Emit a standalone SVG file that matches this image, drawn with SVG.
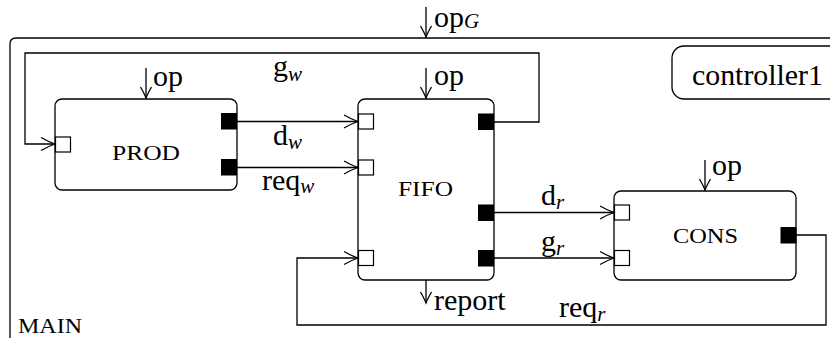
<svg xmlns="http://www.w3.org/2000/svg" width="830" height="338" viewBox="0 0 830 338">
<defs>
<style>
.box{fill:#fff;stroke:#000;stroke-width:1.3}
.ln{fill:none;stroke:#000;stroke-width:1.3}
.wp{fill:#fff;stroke:#000;stroke-width:1.2}
.bp{fill:#000;stroke:#000;stroke-width:1}
.t{font-size:30px;fill:#000}
.sc{font-size:21px;fill:#000}
.sub{font-size:21px;font-style:italic}
</style>
<marker id="arr" markerUnits="userSpaceOnUse" viewBox="-16 -8 17 16" refX="0" refY="0" markerWidth="17" markerHeight="16" orient="auto" overflow="visible">
<path d="M-14,-6.5 Q-6,-2 0,0 Q-6,2 -14,6.5" fill="none" stroke="#000" stroke-width="1.3"/>
</marker>
<marker id="darr" markerUnits="userSpaceOnUse" viewBox="-13 -7 14 14" refX="0" refY="0" markerWidth="14" markerHeight="14" orient="auto" overflow="visible">
<path d="M-11,-5.5 Q-4,-1.5 0,0 Q-4,1.5 -11,5.5" fill="none" stroke="#000" stroke-width="1.3"/>
</marker>
</defs>

<g id="main">
<path class="ln" d="M10,340 L10,44 Q10,38 16,38 L832,38"/>
<text class="sc" font-family="Liberation Serif, serif" x="18" y="333" textLength="64" lengthAdjust="spacingAndGlyphs">MAIN</text>
<line class="ln" x1="426" y1="7" x2="426" y2="37" marker-end="url(#darr)"/>
<text class="t" font-family="Liberation Serif, serif" x="434" y="27">op<tspan class="sub" dy="1">G</tspan></text>
</g>

<g id="connectors">
<polyline class="ln" points="494,122 539,122 539,53 25,53 25,144 55,144" marker-end="url(#arr)"/>
<line class="ln" x1="237" y1="121.5" x2="358" y2="121.5" marker-end="url(#arr)"/>
<line class="ln" x1="237" y1="167.5" x2="358" y2="167.5" marker-end="url(#arr)"/>
<line class="ln" x1="494" y1="212.5" x2="614" y2="212.5" marker-end="url(#arr)"/>
<line class="ln" x1="494" y1="258" x2="614" y2="258" marker-end="url(#arr)"/>
<polyline class="ln" points="796,235 826,235 826,325 297,325 297,258 358,258" marker-end="url(#arr)"/>
<text class="t" font-family="Liberation Serif, serif" x="273" y="76">g<tspan class="sub" dy="5">w</tspan></text>
<text class="t" font-family="Liberation Serif, serif" x="273" y="145">d<tspan class="sub" dy="4">w</tspan></text>
<text class="t" font-family="Liberation Serif, serif" x="262" y="190">req<tspan class="sub" dy="3">w</tspan></text>
<text class="t" font-family="Liberation Serif, serif" x="541" y="205">d<tspan class="sub" dy="4">r</tspan></text>
<text class="t" font-family="Liberation Serif, serif" x="541" y="251">g<tspan class="sub" dy="4">r</tspan></text>
<text class="t" font-family="Liberation Serif, serif" x="559" y="317">req<tspan class="sub" dy="4">r</tspan></text>
</g>

<g id="prod">
<rect class="box" x="55" y="99" width="182" height="91" rx="7"/>
<rect class="wp" x="55.5" y="137" width="15" height="15"/>
<rect class="bp" x="221.5" y="113.5" width="15" height="15.5"/>
<rect class="bp" x="221.5" y="159.5" width="15" height="15.5"/>
<text class="sc" font-family="Liberation Serif, serif" x="112" y="160" textLength="68" lengthAdjust="spacingAndGlyphs">PROD</text>
<line class="ln" x1="146" y1="68" x2="146" y2="98" marker-end="url(#darr)"/>
<text class="t" font-family="Liberation Serif, serif" x="153" y="86">op</text>
</g>

<g id="fifo">
<rect class="box" x="358" y="99" width="136" height="181" rx="7"/>
<rect class="wp" x="358.5" y="114" width="15" height="15"/>
<rect class="wp" x="358.5" y="160" width="15" height="15"/>
<rect class="wp" x="358.5" y="250.5" width="15" height="15"/>
<rect class="bp" x="478.5" y="114" width="15" height="15.5"/>
<rect class="bp" x="478.5" y="205" width="15" height="15.5"/>
<rect class="bp" x="478.5" y="250.5" width="15" height="15.5"/>
<text class="sc" font-family="Liberation Serif, serif" x="398" y="196" textLength="55" lengthAdjust="spacingAndGlyphs">FIFO</text>
<line class="ln" x1="426" y1="68" x2="426" y2="98" marker-end="url(#darr)"/>
<text class="t" font-family="Liberation Serif, serif" x="434" y="85">op</text>
<line class="ln" x1="426" y1="280" x2="426" y2="303" marker-end="url(#darr)"/>
<text class="t" font-family="Liberation Serif, serif" x="434" y="310">report</text>
</g>

<g id="cons">
<rect class="box" x="614" y="191" width="182" height="89" rx="7"/>
<rect class="wp" x="614.5" y="205" width="15" height="15"/>
<rect class="wp" x="614.5" y="250.5" width="15" height="15"/>
<rect class="bp" x="781" y="227.5" width="15" height="15.5"/>
<text class="sc" font-family="Liberation Serif, serif" x="673" y="243" textLength="65" lengthAdjust="spacingAndGlyphs">CONS</text>
<line class="ln" x1="705" y1="160" x2="705" y2="190" marker-end="url(#darr)"/>
<text class="t" font-family="Liberation Serif, serif" x="712" y="175">op</text>
</g>

<g id="controller1">
<rect class="box" x="672" y="46" width="170" height="53" rx="12"/>
<text class="t" font-family="Liberation Serif, serif" x="692" y="85" textLength="131" lengthAdjust="spacingAndGlyphs">controller1</text>
</g>
</svg>
